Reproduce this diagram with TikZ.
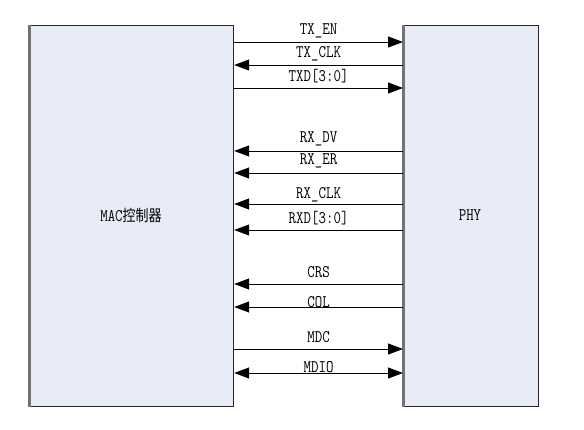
\documentclass[tikz,border=0pt]{standalone}
\usepackage{fontspec}
\newfontfamily\cjk{Noto Sans CJK SC}
\usetikzlibrary{arrows.meta}
\definecolor{boxfill}{HTML}{E8ECF7}
\tikzset{
  blockbox/.style={draw=black!85, line width=1.2pt, fill=boxfill, inner sep=0pt, anchor=north west},
  sig/.style={line width=0.9pt, draw=black},
  tip/.style={-{Triangle[length=15pt,width=11pt]}},
  tipboth/.style={{Triangle[length=15pt,width=11pt]}-{Triangle[length=15pt,width=11pt]}},
  tipleft/.style={{Triangle[length=15pt,width=11pt]}-},
  lab/.style={font=\ttfamily\fontsize{14.5}{16}\selectfont, inner sep=0pt, text=black}
}
\newcommand{\tall}[1]{\scalebox{1}[1.22]{#1}}
\begin{document}
\begin{tikzpicture}[x=1pt,y=-1pt]
\useasboundingbox (0,0) rectangle (584,430);
\node[blockbox, minimum width=204pt, minimum height=381pt] (mac) at (29,25) {};
\node[blockbox, minimum width=135pt, minimum height=381pt] (phy) at (403,25) {};
\draw[black!55, line width=2.2pt] ([xshift=0.4pt]mac.north west) -- ([xshift=0.4pt]mac.south west);
\draw[black!55, line width=2.2pt] ([xshift=0.4pt]phy.north west) -- ([xshift=0.4pt]phy.south west);
\node[lab] (maclab) at (131,215) {\tall{MAC{\cjk\fontsize{13}{16}\selectfont 控制器}}};
\node[lab] (phylab) at (470,215) {\tall{PHY}};
% TX group
\draw[sig,tip] (mac.east |- 0,42) -- node[lab, yshift=11pt]{\tall{TX\_EN}} (phy.west |- 0,42);
\draw[sig,tipleft] (mac.east |- 0,65) -- node[lab, yshift=11pt]{\tall{TX\_CLK}} (phy.west |- 0,65);
\draw[sig,tip] (mac.east |- 0,88) -- node[lab, yshift=12pt]{\tall{TXD[3:0]}} (phy.west |- 0,88);
% RX group
\draw[sig,tipleft] (mac.east |- 0,151) -- node[lab, yshift=12pt]{\tall{RX\_DV}} (phy.west |- 0,151);
\draw[sig,tipleft] (mac.east |- 0,173) -- node[lab, yshift=12pt]{\tall{RX\_ER}} (phy.west |- 0,173);
\draw[sig,tipleft] (mac.east |- 0,204) -- node[lab, yshift=9pt]{\tall{RX\_CLK}} (phy.west |- 0,204);
\draw[sig,tipleft] (mac.east |- 0,230) -- node[lab, yshift=12pt]{\tall{RXD[3:0]}} (phy.west |- 0,230);
% CRS / COL
\draw[sig,tipleft] (mac.east |- 0,284) -- node[lab, yshift=12pt]{\tall{CRS}} (phy.west |- 0,284);
\draw[sig,tipleft] (mac.east |- 0,307) -- node[lab, yshift=5pt]{\tall{COL}} (phy.west |- 0,307);
% MDC / MDIO
\draw[sig,tip] (mac.east |- 0,349) -- node[lab, yshift=12pt]{\tall{MDC}} (phy.west |- 0,349);
\draw[sig,tipboth] (mac.east |- 0,373) -- node[lab, yshift=6pt]{\tall{MDIO}} (phy.west |- 0,373);
\end{tikzpicture}
\end{document}
